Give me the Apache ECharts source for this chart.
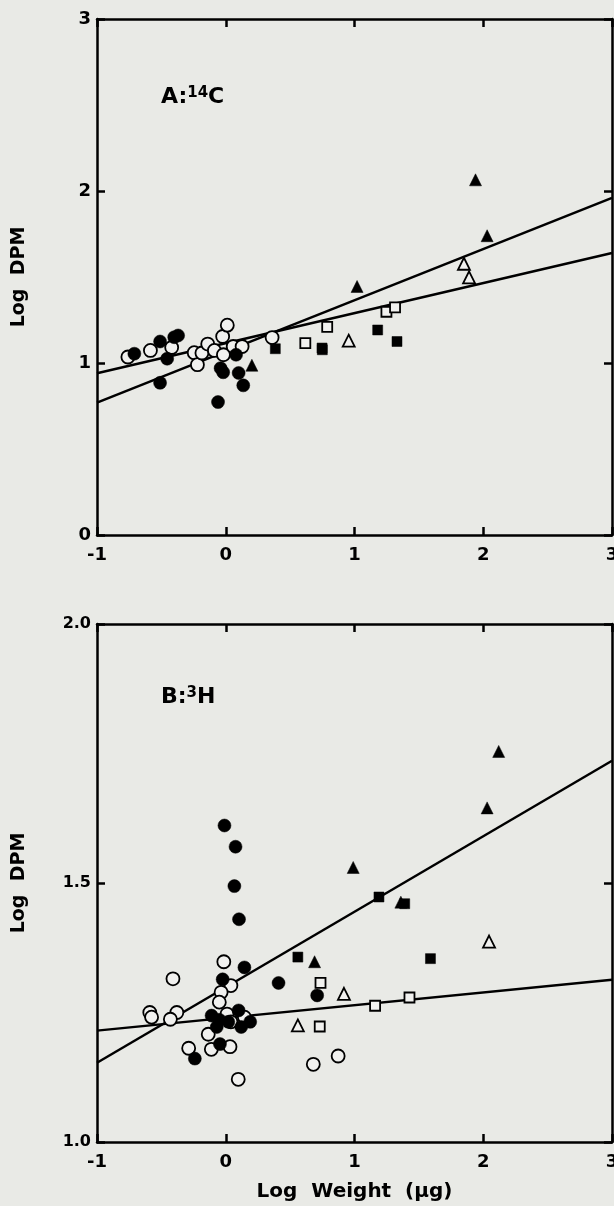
<!DOCTYPE html>
<html>
<head>
<meta charset="utf-8">
<script src="https://cdn.jsdelivr.net/npm/echarts@6/dist/echarts.min.js"></script>
<style>
html,body{margin:0;padding:0;background:#e9eae6;overflow:hidden;}
#c{width:614px;height:1206px;}
</style>
</head>
<body>
<div id="c"></div>
<script>
// ---- tick values ----
const xTicks = [-1, 0, 1, 2, 3];
const yTicksA = [0, 1, 2, 3];
const yTicksB = [1.0, 1.5, 2.0];

// ---- Panel A: 14C ----
const A_filledCircle = [[-0.71,1.054],[-0.51,1.125],[-0.51,0.885],[-0.455,1.025],[-0.40,1.15],[-0.37,1.16],[-0.06,0.773],[-0.04,0.97],[-0.02,0.946],[0.08,1.048],[0.10,0.942],[0.136,0.87]];
const A_openCircle = [[-0.76,1.035],[-0.585,1.073],[-0.42,1.09],[-0.245,1.06],[-0.22,0.99],[-0.185,1.058],[-0.14,1.11],[-0.088,1.073],[-0.024,1.154],[0.012,1.22],[-0.018,1.048],[0.058,1.096],[0.127,1.096],[0.36,1.148]];
const A_filledTri = [[0.203,0.987],[1.02,1.445],[2.03,1.74],[1.94,2.065]];
const A_openTri = [[1.85,1.577],[1.89,1.498],[0.955,1.13]];
const A_filledSq = [[0.385,1.083],[0.748,1.087],[0.75,1.077],[1.18,1.192],[1.33,1.125]];
const A_openSq = [[0.618,1.115],[0.788,1.21],[1.248,1.298],[1.315,1.323]];
const A_lineSteep = [[-1,0.77],[3,1.96]];
const A_lineFlat = [[-1,0.94],[3,1.64]];

// ---- Panel B: 3H ----
const B_filledCircle = [[-0.01,1.611],[0.076,1.570],[0.067,1.494],[0.103,1.43],[0.145,1.337],[-0.024,1.314],[0.41,1.307],[0.71,1.283],[-0.11,1.244],[-0.05,1.236],[-0.07,1.222],[0.10,1.254],[0.12,1.222],[0.19,1.232],[0.02,1.232],[-0.045,1.189],[-0.24,1.161]];
const B_openCircle = [[-0.015,1.348],[-0.41,1.315],[0.04,1.302],[-0.036,1.289],[-0.05,1.27],[-0.59,1.25],[-0.576,1.241],[-0.38,1.25],[-0.43,1.237],[0.01,1.247],[0.04,1.232],[0.145,1.241],[-0.136,1.208],[-0.288,1.181],[-0.112,1.179],[0.033,1.184],[0.68,1.15],[0.873,1.166],[0.097,1.121]];
const B_filledTri = [[0.99,1.53],[0.69,1.348],[1.36,1.463],[2.03,1.645],[2.12,1.754]];
const B_openTri = [[0.56,1.225],[0.918,1.286],[2.045,1.387]];
const B_filledSq = [[1.19,1.473],[1.39,1.46],[0.56,1.357],[1.59,1.354]];
const B_openSq = [[0.736,1.307],[0.73,1.223],[1.16,1.263],[1.427,1.279]];
const B_lineSteep = [[-1,1.153],[3,1.736]];
const B_lineFlat = [[-1,1.215],[3,1.313]];

const BG = '#e9eae6';
const OPENFILL = '#f1f1ef';
const FONT = '"DejaVu Sans", Verdana, sans-serif';

function axisCommon(){
  return {
    axisLine:{show:true, onZero:false, lineStyle:{color:'#000', width:2.5}},
    axisTick:{show:true, inside:true, length:8, lineStyle:{color:'#000', width:2.5}},
    splitLine:{show:false}
  };
}
function xAx(grid, pos, showLabel, name){
  return Object.assign(axisCommon(), {
    type:'value', gridIndex:grid, position:pos, min:-1, max:3, interval:1,
    axisLabel:{show:showLabel, color:'#000', fontSize:18, fontWeight:'bold', fontFamily:FONT, margin:11,
      formatter:v=> xTicks.includes(v) ? String(v) : ''},
    name: name || '', nameLocation:'middle', nameGap:40,
    nameTextStyle:{color:'#000', fontSize:20, fontWeight:'bold', fontFamily:FONT}
  });
}
function yAx(grid, pos, showLabel, min, max, interval, ticks, fmt, fs){
  return Object.assign(axisCommon(), {
    type:'value', gridIndex:grid, position:pos, min:min, max:max, interval:interval,
    axisLabel:{show:showLabel, color:'#000', fontSize:fs, fontWeight:'bold', fontFamily:FONT, margin:6,
      formatter:v=> fmt(v)},
    name: showLabel ? 'Log  DPM' : '', nameLocation:'middle', nameGap:68,
    nameTextStyle:{color:'#000', fontSize:19, fontWeight:'bold', fontFamily:FONT}
  });
}
function scat(data, symbol, filled, size, xi, yi){
  return {type:'scatter', data:data, symbol:symbol, symbolSize:size, xAxisIndex:xi, yAxisIndex:yi,
    itemStyle: filled ? {color:'#000', borderColor:'#000', borderWidth:0.5, opacity:1}
                      : {color:OPENFILL, borderColor:'#000', borderWidth:1.8, opacity:1},
    z:5, silent:true};
}
function line(data, xi, yi){
  return {type:'line', data:data, xAxisIndex:xi, yAxisIndex:yi, symbol:'none',
    lineStyle:{color:'#000', width:2.5}, z:3, silent:true};
}

const chart = echarts.init(document.getElementById('c'), null, {renderer:'canvas', width:614, height:1206});
chart.setOption({
  backgroundColor: BG,
  animation:false,
  grid:[
    {left:97, top:19, width:515, height:516, containLabel:false, outerBoundsMode:'none'},
    {left:97, top:624, width:515, height:518, containLabel:false, outerBoundsMode:'none'}
  ],
  xAxis:[
    xAx(0,'bottom',true),
    xAx(0,'top',false),
    xAx(1,'bottom',true,'Log  Weight  (\u03bcg)'),
    xAx(1,'top',false)
  ],
  yAxis:[
    yAx(0,'left',true,0,3,1,yTicksA,v=>String(v),18),
    yAx(0,'right',false,0,3,1,yTicksA,v=>String(v),18),
    yAx(1,'left',true,1.0,2.0,0.5,yTicksB,v=>v.toFixed(1),16),
    yAx(1,'right',false,1.0,2.0,0.5,yTicksB,v=>v.toFixed(1),16)
  ],
  graphic:[
    {type:'text', left:161, top:86, style:{text:'{a|A:}{s|14}{a|C}', rich:{
      a:{fontSize:22, fontWeight:'bold', fontFamily:FONT, fill:'#000'},
      s:{fontSize:15, fontWeight:'bold', fontFamily:FONT, fill:'#000', verticalAlign:'top', padding:[0,0,8,0]}}}},
    {type:'text', left:161, top:686, style:{text:'{a|B:}{s|3}{a|H}', rich:{
      a:{fontSize:22, fontWeight:'bold', fontFamily:FONT, fill:'#000'},
      s:{fontSize:15, fontWeight:'bold', fontFamily:FONT, fill:'#000', verticalAlign:'top', padding:[0,0,8,0]}}}}
  ],
  series:[
    line(A_lineSteep,0,0), line(A_lineFlat,0,0),
    scat(A_openCircle,'circle',false,13,0,0),
    scat(A_filledCircle,'circle',true,13,0,0),
    scat(A_filledTri,'triangle',true,12,0,0),
    scat(A_openTri,'triangle',false,12,0,0),
    scat(A_filledSq,'rect',true,10,0,0),
    scat(A_openSq,'rect',false,10,0,0),
    line(B_lineSteep,2,2), line(B_lineFlat,2,2),
    scat(B_openCircle,'circle',false,13,2,2),
    scat(B_filledCircle,'circle',true,13,2,2),
    scat(B_filledTri,'triangle',true,12,2,2),
    scat(B_openTri,'triangle',false,12,2,2),
    scat(B_filledSq,'rect',true,10,2,2),
    scat(B_openSq,'rect',false,10,2,2)
  ]
});
</script>
</body>
</html>
